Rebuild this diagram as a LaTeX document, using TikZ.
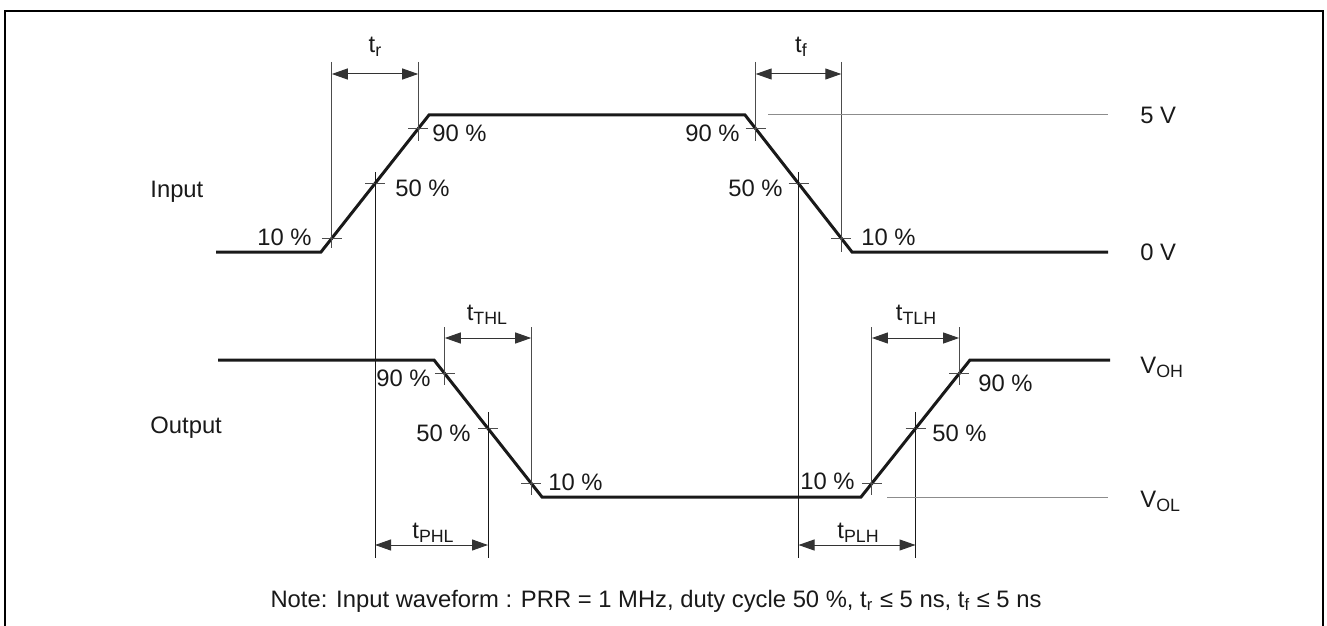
\documentclass[tikz,border=0pt]{standalone}
\usepackage{fontspec}
\setmainfont{Liberation Sans}
\usetikzlibrary{arrows.meta,calc}
\newcommand\mysub[1]{\raisebox{-2pt}{\fontsize{8.9}{10}\selectfont #1}}
\begin{document}
\begin{tikzpicture}[x=0.5pt,y=-0.5pt,
  wave/.style={line width=1.5pt, line join=miter, black!90},
  thinl/.style={line width=0.5pt, black!70},
  refl/.style={line width=0.5pt, black!45},
  dimarrow/.style={line width=0.5pt, black!80, {Triangle[length=8pt,width=5.5pt]}-{Triangle[length=8pt,width=5.5pt]}},
  lbl/.style={inner sep=0pt, font=\fontsize{11.9}{14}\selectfont, text=black!90},
]
\useasboundingbox (0,0) rectangle (1327,626);
% frame
\draw[line width=1pt] (5,11) rectangle (1323,640);

% input waveform
\coordinate (i0) at (216,252);
\coordinate (i1) at (321,252);
\coordinate (i2) at (429,115);
\coordinate (i3) at (745,115);
\coordinate (i4) at (852,252);
\coordinate (i5) at (1108,252);
\draw[wave] (i0) -- (i1) -- (i2) -- (i3) -- (i4) -- (i5);

% output waveform
\coordinate (o0) at (218,360);
\coordinate (o1) at (434,360);
\coordinate (o2) at (542,497);
\coordinate (o3) at (861,497);
\coordinate (o4) at (970,360);
\coordinate (o5) at (1110,360);
\draw[wave] (o0) -- (o1) -- (o2) -- (o3) -- (o4) -- (o5);

% crossing points
\coordinate (ir10) at ($(i1)!0.1!(i2)$);
\coordinate (ir50) at ($(i1)!0.5!(i2)$);
\coordinate (ir90) at ($(i1)!0.9!(i2)$);
\coordinate (if90) at ($(i3)!0.1!(i4)$);
\coordinate (if50) at ($(i3)!0.5!(i4)$);
\coordinate (if10) at ($(i3)!0.9!(i4)$);
\coordinate (of90) at ($(o1)!0.1!(o2)$);
\coordinate (of50) at ($(o1)!0.5!(o2)$);
\coordinate (of10) at ($(o1)!0.9!(o2)$);
\coordinate (or10) at ($(o3)!0.1!(o4)$);
\coordinate (or50) at ($(o3)!0.5!(o4)$);
\coordinate (or90) at ($(o3)!0.9!(o4)$);

% ticks
\foreach \p in {ir10,ir50,ir90,if90,if50,if10,of90,of50,of10,or10,or50,or90}
  \draw[thinl] ($(\p)+(-10,0)$) -- ($(\p)+(10,0)$);

% level references
\coordinate (y62) at (0,62);
\coordinate (y74) at (0,74);
\coordinate (y141) at (0,141);
\coordinate (y248) at (0,248);
\coordinate (y252) at (0,252);
\coordinate (y172) at (0,172);
\coordinate (y558) at (0,558);
\coordinate (y327) at (0,327);
\coordinate (y338) at (0,338);
\coordinate (y385) at (0,385);
\coordinate (y495) at (0,495);
\coordinate (y412) at (0,412);
\coordinate (y545) at (0,545);

% vertical extension lines
\draw[thinl] (ir10 |- y62) -- (ir10 |- y248);
\draw[thinl] (ir90 |- y62) -- (ir90 |- y141);
\draw[thinl, black!90] (ir50 |- y172) -- (ir50 |- y558);
\draw[thinl] (if90 |- y62) -- (if90 |- y141);
\draw[thinl] (if10 |- y62) -- (if10 |- y252);
\draw[thinl, black!90] (if50 |- y172) -- (if50 |- y558);
\draw[thinl] (of90 |- y327) -- (of90 |- y385);
\draw[thinl] (of10 |- y327) -- (of10 |- y495);
\draw[thinl, black!90] (of50 |- y412) -- (of50 |- y558);
\draw[thinl] (or10 |- y327) -- (or10 |- y495);
\draw[thinl] (or90 |- y327) -- (or90 |- y385);
\draw[thinl, black!90] (or50 |- y412) -- (or50 |- y558);

% reference lines
\coordinate (r5s) at (768,115);
\coordinate (r5e) at (1108,115);
\coordinate (rls) at (887,497);
\coordinate (rle) at (1108,497);
\draw[refl] (r5s) -- (r5e);
\draw[refl] (rls) -- (rle);

% dimension arrows
\draw[dimarrow] (ir10 |- y74) -- (ir90 |- y74);
\draw[dimarrow] (if90 |- y74) -- (if10 |- y74);
\draw[dimarrow] (of90 |- y338) -- (of10 |- y338);
\draw[dimarrow] (or10 |- y338) -- (or90 |- y338);
\draw[dimarrow] (ir50 |- y545) -- (of50 |- y545);
\draw[dimarrow] (if50 |- y545) -- (or50 |- y545);

% timing labels
\node[lbl, anchor=base] (ltr) at (375,53) {t\mysub{r}};
\node[lbl, anchor=base] (ltf) at (801,53) {t\mysub{f}};
\node[lbl, anchor=base] (lthl) at (487,320) {t\mysub{THL}};
\node[lbl, anchor=base] (ltlh) at (916,320) {t\mysub{TLH}};
\node[lbl, anchor=base] (lphl) at (433,538) {t\mysub{PHL}};
\node[lbl, anchor=base] (lplh) at (858,538) {t\mysub{PLH}};

% percent labels
\node[lbl, anchor=east] (p1) at (312,237) {10 \%};
\node[lbl, anchor=west] (p2) at (395,188) {50 \%};
\node[lbl, anchor=west] (p3) at (432,133) {90 \%};
\node[lbl, anchor=east] (p4) at (740,133) {90 \%};
\node[lbl, anchor=east] (p5) at (783,188) {50 \%};
\node[lbl, anchor=west] (p6) at (861,237) {10 \%};
\node[lbl, anchor=east] (p7) at (431,378) {90 \%};
\node[lbl, anchor=east] (p8) at (471,433) {50 \%};
\node[lbl, anchor=west] (p9) at (548,482) {10 \%};
\node[lbl, anchor=east] (p10) at (855,481) {10 \%};
\node[lbl, anchor=west] (p11) at (932,433) {50 \%};
\node[lbl, anchor=west] (p12) at (978,383) {90 \%};

% signal names and levels
\node[lbl, anchor=base west] (lin) at (150,197) {Input};
\node[lbl, anchor=base west] (lout) at (150,433) {Output};
\node[lbl, anchor=west] (l5v) at (1140,115) {5 V};
\node[lbl, anchor=west] (l0v) at (1140,252) {0 V};
\node[lbl, anchor=base west] (lvoh) at (1140,373) {V\mysub{OH}};
\node[lbl, anchor=base west] (lvol) at (1140,507) {V\mysub{OL}};

% note
\node[lbl, anchor=base] (note) at (656,607) {Note: Input waveform : PRR = 1 MHz, duty cycle 50 \%, t\textsubscript{r} ≤ 5 ns, t\textsubscript{f} ≤ 5 ns};
\end{tikzpicture}
\end{document}
